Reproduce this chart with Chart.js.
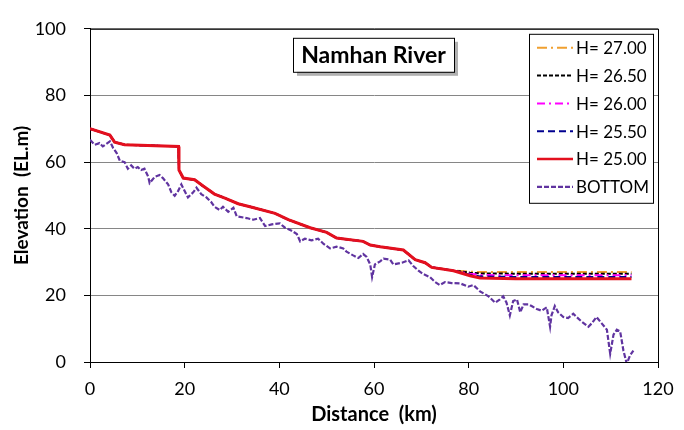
<!DOCTYPE html>
<html>
<head>
<meta charset="utf-8">
<script src="https://cdn.jsdelivr.net/npm/chart.js@4/dist/chart.umd.min.js"></script>
<style>
  html, body { margin: 0; padding: 0; background: #fff; }
  canvas { display: block; }
</style>
</head>
<body>
<canvas id="chart-namhan" width="684" height="430"></canvas>
<script>
// water surface profiles (km / EL.m)
const waterKm = [0, 4.2, 5.2, 7.3, 18.7, 18.8, 19.7, 22.1, 23.9, 26.3, 28.5, 31.3, 33.8, 39.1, 41.9, 46.5, 50.0, 52.1, 57.7, 59.2, 61.3, 66.2, 68.7, 70.8, 72.2, 76.8, 80.3, 82.4, 90, 100, 114.4];
const h2700 = [70.0, 68.1, 66.0, 65.2, 64.7, 57.6, 55.2, 54.7, 52.8, 50.4, 49.2, 47.5, 46.6, 44.6, 42.7, 40.3, 38.9, 37.2, 36.2, 35.1, 34.6, 33.6, 30.7, 29.8, 28.4, 27.5, 27.1, 27.0, 27.0, 27.0, 27.0];
const h2650 = [70.0, 68.1, 66.0, 65.2, 64.7, 57.6, 55.2, 54.7, 52.8, 50.4, 49.2, 47.5, 46.6, 44.6, 42.7, 40.3, 38.9, 37.2, 36.2, 35.1, 34.6, 33.6, 30.7, 29.8, 28.4, 27.4, 26.8, 26.6, 26.5, 26.5, 26.5];
const h2600 = [70.0, 68.1, 66.0, 65.2, 64.7, 57.6, 55.2, 54.7, 52.8, 50.4, 49.2, 47.5, 46.6, 44.6, 42.7, 40.3, 38.9, 37.2, 36.2, 35.1, 34.6, 33.6, 30.7, 29.8, 28.4, 27.4, 26.5, 26.1, 26.0, 26.0, 26.0];
const h2550 = [70.0, 68.1, 66.0, 65.2, 64.7, 57.6, 55.2, 54.7, 52.8, 50.4, 49.2, 47.5, 46.6, 44.6, 42.7, 40.3, 38.9, 37.2, 36.2, 35.1, 34.6, 33.6, 30.7, 29.8, 28.4, 27.4, 26.2, 25.7, 25.5, 25.5, 25.5];
const h2500 = [70.0, 68.1, 66.0, 65.2, 64.7, 57.6, 55.2, 54.7, 52.8, 50.4, 49.2, 47.5, 46.6, 44.6, 42.7, 40.3, 38.9, 37.2, 36.2, 35.1, 34.6, 33.6, 30.7, 29.8, 28.4, 27.4, 25.9, 25.2, 25.0, 25.0, 25.0];

// river bed
const bedKm = [0, 1.0, 2.0, 2.7, 4.2, 4.9, 5.6, 6.3, 7.3, 8.0, 8.7, 9.4, 10.1, 10.8, 11.5, 12.3, 12.6, 13.7, 14.7, 15.4, 16.5, 17.2, 17.9, 18.6, 19.3, 20.0, 20.7, 21.8, 22.5, 23.5, 24.6, 25.6, 26.3, 27.4, 28.1, 29.2, 30.3, 31.0, 33.1, 34.5, 35.9, 37.0, 38.4, 40.1, 41.2, 42.6, 43.7, 44.4, 45.4, 46.8, 48.2, 49.3, 50.7, 52.1, 53.5, 54.2, 55.6, 56.7, 57.7, 58.4, 59.2, 59.6, 60.2, 61.3, 62.0, 63.4, 64.1, 65.9, 67.3, 68.3, 69.4, 70.4, 71.8, 72.9, 73.9, 75.0, 76.4, 78.2, 79.9, 81.0, 82.4, 84.2, 85.6, 86.6, 87.3, 88.0, 88.7, 89.4, 90.2, 90.9, 91.6, 92.6, 93.3, 94.4, 95.4, 96.5, 97.2, 97.5, 98.2, 98.9, 100.0, 101.0, 102.1, 102.8, 103.9, 105.3, 106.0, 107.0, 108.1, 109.2, 109.9, 110.6, 111.3, 112.0, 112.7, 113.4, 114.1, 114.8];
const bedEl = [66.7, 65.2, 65.7, 64.7, 66.2, 64.2, 62.8, 60.4, 60.0, 58.0, 59.0, 58.0, 58.5, 57.6, 58.0, 55.6, 53.7, 55.6, 56.1, 55.2, 53.3, 50.9, 49.9, 51.3, 53.3, 51.3, 49.4, 50.9, 52.3, 50.4, 49.4, 48.0, 46.6, 45.6, 46.6, 45.1, 46.3, 43.7, 43.2, 42.7, 43.2, 40.8, 41.3, 41.6, 40.3, 39.4, 38.4, 36.2, 37.0, 36.5, 37.0, 35.5, 34.1, 34.6, 34.1, 33.1, 32.0, 31.2, 32.4, 31.6, 29.3, 25.5, 29.3, 30.2, 31.0, 30.7, 29.3, 29.8, 30.5, 28.8, 27.4, 26.4, 25.5, 24.0, 23.1, 24.0, 23.7, 23.6, 22.6, 23.1, 21.2, 19.7, 17.8, 18.8, 19.7, 17.8, 14.0, 18.3, 18.8, 14.9, 17.3, 17.3, 16.8, 15.9, 15.4, 16.4, 10.6, 14.0, 16.8, 14.9, 13.5, 13.2, 14.5, 13.5, 12.1, 10.6, 11.6, 13.5, 11.6, 9.7, 2.5, 8.2, 9.7, 9.2, 3.4, -0.5, 2.0, 3.4];

const xTicks = [0, 20, 40, 60, 80, 100, 120];
const yTicks = [0, 20, 40, 60, 80, 100];

const FONT = 'Lato, "Open Sans", sans-serif';
const pts = (xs, ys) => xs.map((x, i) => ({ x, y: ys[i] }));

/** black frame round the plot area */
const framePlugin = {
  id: 'frame',
  beforeDatasetsDraw(chart) {
    const { ctx, chartArea: a } = chart;
    ctx.save();
    ctx.strokeStyle = '#000';
    ctx.lineWidth = 1;
    ctx.strokeRect(a.left + 0.5, a.top + 0.5, a.right - a.left, a.bottom - a.top);
    ctx.restore();
  },
};

/** legend box inside the plot + title box */
const boxesPlugin = {
  id: 'boxes',
  afterDraw(chart) {
    const { ctx, chartArea: a } = chart;
    ctx.save();

    // legend
    const lx = a.right - 129, ly = a.top + 5, lw = 124, lh = 169;
    ctx.fillStyle = '#fff';
    ctx.fillRect(lx, ly, lw, lh);
    ctx.strokeStyle = '#000';
    ctx.lineWidth = 1;
    ctx.strokeRect(lx + 0.5, ly + 0.5, lw, lh);
    ctx.font = '17px ' + FONT;
    ctx.textBaseline = 'middle';
    chart.data.datasets.forEach((ds, i) => {
      const y = ly + 14 + i * 27.8;
      ctx.strokeStyle = ds.borderColor;
      ctx.lineWidth = Math.min(ds.borderWidth, 2.5);
      ctx.setLineDash(ds.borderDash || []);
      ctx.beginPath();
      ctx.moveTo(lx + 8, y);
      ctx.lineTo(lx + 44, y);
      ctx.stroke();
      ctx.setLineDash([]);
      ctx.fillStyle = '#000';
      ctx.fillText(ds.label, lx + 47, y + 1);
    });

    // title box with shadow
    const tx = a.left + 203, ty = a.top + 9, tw = 161, th = 34;
    ctx.fillStyle = '#b0b0b0';
    ctx.fillRect(tx + 4, ty + 4, tw, th);
    ctx.fillStyle = '#fff';
    ctx.fillRect(tx, ty, tw, th);
    ctx.strokeStyle = '#000';
    ctx.lineWidth = 1;
    ctx.strokeRect(tx + 0.5, ty + 0.5, tw, th);
    ctx.fillStyle = '#000';
    ctx.font = 'bold 23px ' + FONT;
    ctx.textAlign = 'center';
    ctx.fillText('Namhan River', tx + tw / 2, ty + th / 2 + 1);

    ctx.restore();
  },
};

new Chart(document.getElementById('chart-namhan'), {
  type: 'line',
  data: {
    datasets: [
      { label: 'H= 27.00', data: pts(waterKm, h2700), borderColor: '#f0a030', borderWidth: 2, borderDash: [10, 4, 2, 4], order: 5 },
      { label: 'H= 26.50', data: pts(waterKm, h2650), borderColor: '#000000', borderWidth: 2, borderDash: [4, 2], order: 4 },
      { label: 'H= 26.00', data: pts(waterKm, h2600), borderColor: '#ff00ff', borderWidth: 2, borderDash: [8, 4, 2, 4], order: 3 },
      { label: 'H= 25.50', data: pts(waterKm, h2550), borderColor: '#000090', borderWidth: 2, borderDash: [7, 4], order: 2 },
      { label: 'H= 25.00', data: pts(waterKm, h2500), borderColor: '#e3101e', borderWidth: 3, order: 1 },
      { label: 'BOTTOM', data: pts(bedKm, bedEl), borderColor: '#6034a0', borderWidth: 2.2, borderDash: [5, 2], order: 0 },
    ],
  },
  options: {
    responsive: false,
    animation: false,
    devicePixelRatio: 1,
    layout: { padding: { left: 0, right: 26, top: 14, bottom: 0 } },
    elements: { point: { radius: 0 }, line: { tension: 0, fill: false } },
    plugins: {
      legend: { display: false },
      tooltip: { enabled: false },
    },
    scales: {
      x: {
        type: 'linear',
        min: 0,
        max: 120,
        afterBuildTicks: (s) => { s.ticks = xTicks.map((v) => ({ value: v })); },
        afterFit: (s) => { s.height = 68; },
        border: { color: '#000' },
        grid: { drawOnChartArea: false, tickColor: '#000', tickLength: 6 },
        ticks: { color: '#000', font: { family: FONT, size: 18 }, padding: 10, maxRotation: 0 },
        title: { display: true, text: 'Distance  (km)', color: '#000', font: { family: FONT, size: 20, weight: 'bold' }, padding: 3 },
      },
      y: {
        type: 'linear',
        min: 0,
        max: 100,
        afterBuildTicks: (s) => { s.ticks = yTicks.map((v) => ({ value: v })); },
        afterFit: (s) => { s.width = 90; },
        border: { color: '#000' },
        grid: { color: '#868686', tickColor: '#000', tickLength: 6 },
        ticks: { color: '#000', font: { family: FONT, size: 18 }, padding: 18 },
        title: { display: true, text: 'Elevation  (EL.m)', color: '#000', font: { family: FONT, size: 19, weight: 'bold' }, padding: 10 },
      },
    },
  },
  plugins: [framePlugin, boxesPlugin],
});
</script>
</body>
</html>
